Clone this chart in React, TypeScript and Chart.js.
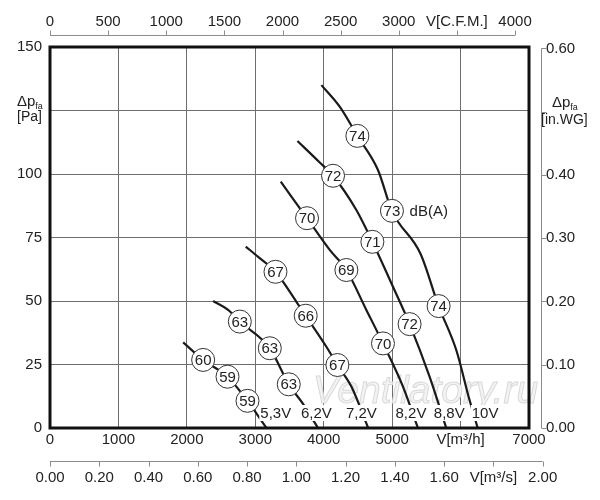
import React, { useEffect, useRef } from "react";
import { Chart, registerables } from "chart.js";

Chart.register(...registerables);

const FONT = "'Liberation Sans', Arial, Helvetica, sans-serif";

// ---- Data ----
const voltages = ["5,3V", "6,2V", "7,2V", "8,2V", "8,8V", "10V"];

const flow53 = [1946, 2238, 2594, 2886, 3164];
const dp53 = [33.7, 26.8, 20.2, 10.7, 0];

const flow62 = [2384, 2603, 2774, 3212, 3489, 3698, 3917];
const dp62 = [50.0, 46.5, 41.9, 31.4, 17.2, 9.5, 0];

const flow72 = [2861, 3041, 3295, 3601, 3737, 4039, 4200, 4404, 4650];
const dp72 = [71.4, 67.4, 61.5, 49.7, 44.2, 32.0, 24.8, 16.3, 0];

const flow82 = [3372, 3528, 3756, 4088, 4331, 4623, 4866, 5158, 5377];
const dp82 = [97.0, 91.1, 82.6, 70.1, 62.2, 46.5, 33.3, 16.3, 0];

const flow88 = [3616, 3931, 4136, 4477, 4711, 5012, 5255, 5547, 5791];
const dp88 = [113.0, 104.8, 99.3, 85.8, 73.3, 55.6, 40.9, 20.2, 0];

const flow10 = [3966, 4234, 4492, 4793, 4997, 5416, 5679, 5937, 6131, 6250];
const dp10 = [135.0, 126.5, 115.0, 101.6, 85.5, 68.5, 48.0, 30.7, 11.0, 0];

// sound level markers dB(A)
const soundFlow = [2238, 2594, 2886, 2774, 3212, 3489, 3295, 3737, 4200, 3756, 4331, 4866, 4136, 4711, 5255, 4492, 4997, 5679];
const soundDp = [26.8, 20.2, 10.7, 41.9, 31.4, 17.2, 61.5, 44.2, 24.8, 82.6, 62.2, 33.3, 99.3, 73.3, 40.9, 115.0, 85.5, 48.0];
const soundDb = ["60", "59", "59", "63", "63", "63", "67", "66", "67", "70", "69", "70", "72", "71", "72", "74", "73", "74"];

const voltLabelFlow = [3299, 3893, 4550, 5275, 5835, 6358];
const voltLabelDp = 5.9;
const dbaLabelFlow = 5255;
const dbaLabelDp = 85.5;

// axes
const xTicks = [0, 1000, 2000, 3000, 4000, 5000, 6000, 7000];
const yTicks = [0, 25, 50, 75, 100, 125, 150];
const cfmTicks = [0, 500, 1000, 1500, 2000, 2500, 3000, 3500, 4000];
const m3sTicks = [0, 0.2, 0.4, 0.6, 0.8, 1.0, 1.2, 1.4, 1.6, 1.8, 2.0];
const inwgTicks = [0, 0.1, 0.2, 0.3, 0.4, 0.5, 0.6];

const X_MAX = 7000;
const Y_MAX = 150;
const M3H_PER_CFM = 1.699;
const M3H_PER_M3S = 3600;
const PA_PER_INWG = 249.089;

const curveFlows = [flow53, flow62, flow72, flow82, flow88, flow10];
const curveDps = [dp53, dp62, dp72, dp82, dp88, dp10];

const tickFont = { family: FONT, size: 15 };
const TEXT = "#222";
const AXIS_GRAY = "#8c8c8c";

const near = (a: number, b: number) => Math.abs(a - b) < 1e-6;

const overlayPlugin = {
  id: "overlay",
  beforeDatasetsDraw(chart: any) {
    const ctx = chart.ctx;
    const xs = chart.scales.x;
    const ys = chart.scales.y;
    ctx.save();
    ctx.font = `italic 39px ${FONT}`;
    ctx.textAlign = "left";
    ctx.textBaseline = "alphabetic";
    ctx.fillStyle = "#f3f3f3";
    ctx.strokeStyle = "#d9d9d9";
    ctx.lineWidth = 1;
    const wx = xs.getPixelForValue(3839);
    const wy = ys.getPixelForValue(9.8);
    ctx.fillText("Ventilatory.ru", wx, wy);
    ctx.strokeText("Ventilatory.ru", wx, wy);
    ctx.restore();
  },
  afterDatasetsDraw(chart: any) {
    const ctx = chart.ctx;
    const xs = chart.scales.x;
    const ys = chart.scales.y;
    ctx.save();
    // dB values inside circles
    const meta = chart.getDatasetMeta(curveFlows.length);
    ctx.font = `15px ${FONT}`;
    ctx.fillStyle = TEXT;
    ctx.textAlign = "center";
    ctx.textBaseline = "middle";
    meta.data.forEach((el: any, i: number) => {
      ctx.fillText(soundDb[i], el.x, el.y + 1);
    });
    // voltage labels with white background
    voltages.forEach((v, i) => {
      const px = xs.getPixelForValue(voltLabelFlow[i]);
      const py = ys.getPixelForValue(voltLabelDp);
      const w = ctx.measureText(v).width;
      ctx.fillStyle = "#fff";
      ctx.fillRect(px - w / 2 - 1, py - 8, w + 2, 16);
      ctx.fillStyle = TEXT;
      ctx.fillText(v, px, py + 1);
    });
    // dB(A)
    ctx.textAlign = "left";
    ctx.fillText("dB(A)", xs.getPixelForValue(dbaLabelFlow), ys.getPixelForValue(dbaLabelDp) + 1);
    ctx.restore();
  },
  afterDraw(chart: any) {
    const ctx = chart.ctx;
    const ca = chart.chartArea;
    ctx.save();
    // plot frame
    ctx.strokeStyle = "#111";
    ctx.lineWidth = 3;
    ctx.strokeRect(ca.left, ca.top, ca.right - ca.left, ca.bottom - ca.top);

    ctx.strokeStyle = AXIS_GRAY;
    ctx.lineWidth = 1;
    // top CFM axis
    const t = chart.scales.xt;
    const ty = Math.round(t.bottom) + 0.5;
    ctx.beginPath();
    ctx.moveTo(t.getPixelForValue(cfmTicks[0]), ty);
    ctx.lineTo(t.getPixelForValue(cfmTicks[cfmTicks.length - 1]), ty);
    cfmTicks.forEach((v) => {
      const p = Math.round(t.getPixelForValue(v)) + 0.5;
      ctx.moveTo(p, ty);
      ctx.lineTo(p, ty - 5);
    });
    ctx.stroke();
    // bottom m3/s axis
    const b = chart.scales.xs;
    const by = Math.round(b.top) + 0.5;
    ctx.beginPath();
    ctx.moveTo(b.getPixelForValue(m3sTicks[0]), by);
    ctx.lineTo(b.getPixelForValue(m3sTicks[m3sTicks.length - 1]), by);
    m3sTicks.forEach((v) => {
      const p = Math.round(b.getPixelForValue(v)) + 0.5;
      ctx.moveTo(p, by);
      ctx.lineTo(p, by + 5);
    });
    ctx.stroke();
    // right in.WG axis
    const r = chart.scales.yr;
    const rx = Math.round(r.left) + 0.5;
    ctx.beginPath();
    ctx.moveTo(rx, r.getPixelForValue(inwgTicks[0]));
    ctx.lineTo(rx, r.getPixelForValue(inwgTicks[inwgTicks.length - 1]));
    inwgTicks.forEach((v) => {
      const p = Math.round(r.getPixelForValue(v)) + 0.5;
      ctx.moveTo(rx, p);
      ctx.lineTo(rx + 5, p);
    });
    ctx.stroke();

    // axis titles
    ctx.fillStyle = TEXT;
    ctx.textAlign = "left";
    ctx.textBaseline = "alphabetic";
    const ys = chart.scales.y;
    const ly = ys.getPixelForValue(125);
    ctx.font = `15px ${FONT}`;
    ctx.fillText("Δp", 17, ly - 4.5);
    const lw = ctx.measureText("Δp").width;
    ctx.font = `9px ${FONT}`;
    ctx.fillText("fa", 17 + lw, ly - 1.5);
    ctx.font = `14px ${FONT}`;
    ctx.fillText("[Pa]", 17, ly + 10);

    const ry = r.getPixelForValue(0.5);
    ctx.font = `15px ${FONT}`;
    ctx.fillText("Δp", 552, ry - 5);
    const rw = ctx.measureText("Δp").width;
    ctx.font = `9px ${FONT}`;
    ctx.fillText("fa", 552 + rw, ry - 1.5);
    ctx.font = `14px ${FONT}`;
    ctx.fillText("[in.WG]", 541, ry + 12.5);
    ctx.restore();
  },
};

export default function App() {
  const canvasRef = useRef<HTMLCanvasElement | null>(null);

  useEffect(() => {
    const canvas = canvasRef.current;
    if (!canvas) return;

    const lineSets = curveFlows.map((flows, i) => ({
      type: "line" as const,
      label: voltages[i],
      data: flows.map((x, j) => ({ x, y: curveDps[i][j] })),
      borderColor: "#1a1a1a",
      borderWidth: 2.2,
      pointRadius: 0,
      fill: false,
      cubicInterpolationMode: "monotone" as const,
      order: 1,
      xAxisID: "x",
      yAxisID: "y",
    }));

    const circleSet = {
      type: "scatter" as const,
      label: "dB(A)",
      data: soundFlow.map((x, j) => ({ x, y: soundDp[j] })),
      pointRadius: 11.5,
      pointBackgroundColor: "#ffffff",
      pointBorderColor: "#333333",
      pointBorderWidth: 1,
      showLine: false,
      order: 0,
      xAxisID: "x",
      yAxisID: "y",
    };

    const hiddenAxis = (position: string, size: number) => ({
      type: "linear",
      position,
      min: 0,
      max: 1,
      weight: 0,
      ticks: { display: false },
      grid: { display: false, drawTicks: false },
      border: { display: false },
      afterFit: (s: any) => {
        if (position === "top" || position === "bottom") s.height = size;
        else s.width = size;
      },
    });

    const chart = new Chart(canvas, {
      type: "line",
      data: { datasets: [...lineSets, circleSet] as any },
      options: {
        responsive: false,
        animation: false,
        events: [],
        layout: { padding: 0 },
        plugins: { legend: { display: false }, tooltip: { enabled: false } },
        scales: {
          x: {
            type: "linear",
            position: "bottom",
            min: 0,
            max: X_MAX,
            weight: 0,
            afterBuildTicks: (s: any) => {
              s.ticks = xTicks.map((v) => ({ value: v }));
            },
            ticks: {
              font: tickFont,
              color: TEXT,
              padding: 3,
              autoSkip: false,
              maxRotation: 0,
              callback: (v: any) => (v === 6000 ? "V[m³/h]" : String(v)),
            },
            grid: { color: "#6e6e6e", lineWidth: 1, drawTicks: false },
            border: { display: false },
            afterFit: (s: any) => {
              s.height = 33;
            },
          },
          xs: {
            type: "linear",
            position: "bottom",
            min: 0,
            max: X_MAX / M3H_PER_M3S,
            weight: 1,
            afterBuildTicks: (s: any) => {
              s.ticks = m3sTicks.map((v) => ({ value: v }));
            },
            ticks: {
              font: tickFont,
              color: TEXT,
              padding: 8,
              autoSkip: false,
              maxRotation: 0,
              callback: (v: any) => (near(v, 1.8) ? "V[m³/s]" : Number(v).toFixed(2)),
            },
            grid: { display: false, drawTicks: false },
            border: { display: false },
            afterFit: (s: any) => {
              s.height = 39;
            },
          },
          xt: {
            type: "linear",
            position: "top",
            min: 0,
            max: X_MAX / M3H_PER_CFM,
            weight: 1,
            afterBuildTicks: (s: any) => {
              s.ticks = cfmTicks.map((v) => ({ value: v }));
            },
            ticks: {
              font: tickFont,
              color: TEXT,
              padding: 4,
              autoSkip: false,
              maxRotation: 0,
              callback: (v: any) => (v === 3500 ? "V[C.F.M.]" : String(v)),
            },
            grid: { display: false, drawTicks: false },
            border: { display: false },
            afterFit: (s: any) => {
              s.height = 35;
            },
          },
          xtd: hiddenAxis("top", 12) as any,
          y: {
            type: "linear",
            position: "left",
            min: 0,
            max: Y_MAX,
            afterBuildTicks: (s: any) => {
              s.ticks = yTicks.map((v) => ({ value: v }));
            },
            ticks: {
              font: tickFont,
              color: TEXT,
              padding: 8,
              autoSkip: false,
              callback: (v: any) => (v === 125 ? "" : String(v)),
            },
            grid: { color: "#6e6e6e", lineWidth: 1, drawTicks: false },
            border: { display: false },
            afterFit: (s: any) => {
              s.width = 50;
            },
          },
          yr: {
            type: "linear",
            position: "right",
            min: 0,
            max: Y_MAX / PA_PER_INWG,
            weight: 1,
            afterBuildTicks: (s: any) => {
              s.ticks = inwgTicks.map((v) => ({ value: v }));
            },
            ticks: {
              font: tickFont,
              color: TEXT,
              padding: 5,
              autoSkip: false,
              callback: (v: any) => (near(v, 0.5) ? "" : Number(v).toFixed(2)),
            },
            grid: { display: false, drawTicks: false },
            border: { display: false },
            afterFit: (s: any) => {
              s.width = 59;
            },
          },
          yrd: hiddenAxis("right", 12) as any,
        },
      } as any,
      plugins: [overlayPlugin],
    });

    return () => chart.destroy();
  }, []);

  return (
    <div style={{ position: "fixed", left: 0, top: 0, width: 600, height: 500, background: "#fff" }}>
      <canvas ref={canvasRef} width={600} height={500} style={{ width: 600, height: 500, display: "block" }} />
    </div>
  );
}
